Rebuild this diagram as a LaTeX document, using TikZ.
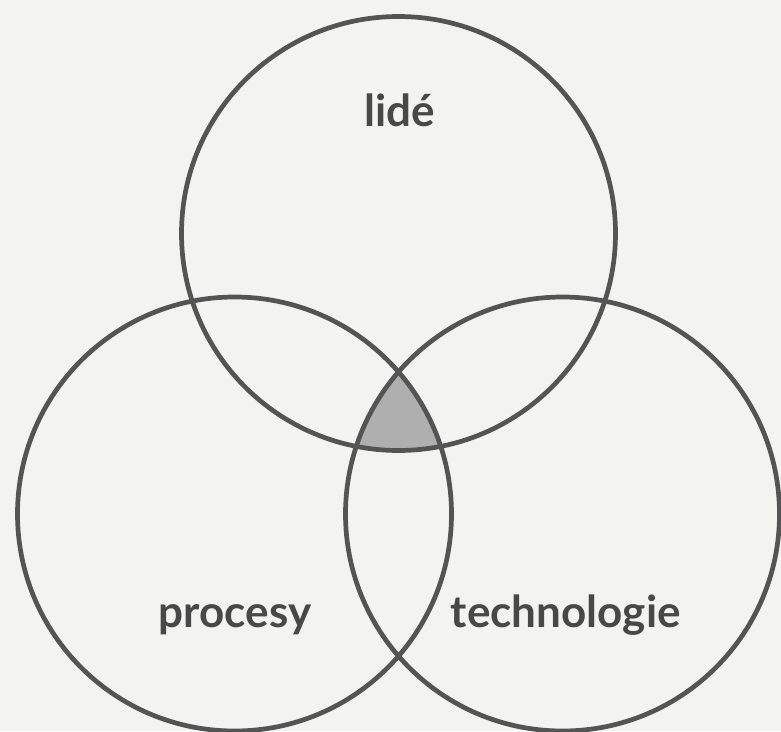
\documentclass[tikz,border=0pt]{standalone}
\usepackage{fontspec}
\setmainfont{Lato}
\definecolor{paper}{RGB}{243,243,241}
\definecolor{ring}{RGB}{84,84,84}
\definecolor{core}{RGB}{175,175,175}
\definecolor{ink}{RGB}{72,72,72}
\tikzset{
  ring/.style={draw=ring, line width=4.7pt},
  setlabel/.style={anchor=base, inner sep=0pt, text=ink, font=\fontsize{44}{50}\selectfont\bfseries},
}
\begin{document}
\begin{tikzpicture}[x=1pt, y=-1pt]
  % page
  \fill[paper] (0,0) rectangle (781,731);
  \useasboundingbox (0,0) rectangle (781,731);
  % circle centres
  \coordinate (ctop)   at (398.5,233.5);
  \coordinate (cleft)  at (234.5,514);
  \coordinate (cright) at (562.5,514);
  % common part of all three sets
  \begin{scope}
    \clip (ctop) circle[radius=217pt];
    \clip (cleft) circle[radius=217pt];
    \fill[core] (cright) circle[radius=217pt];
  \end{scope}
  % the three sets
  \draw[ring] (ctop)   circle[radius=217pt];
  \draw[ring] (cleft)  circle[radius=217pt];
  \draw[ring] (cright) circle[radius=217pt];
  % labels
  \node[setlabel] (lide)  at (400,126)   {lidé};
  \node[setlabel] (proc)  at (235,627)   {procesy};
  \node[setlabel] (tech)  at (565.7,627) {technologie};
\end{tikzpicture}
\end{document}
